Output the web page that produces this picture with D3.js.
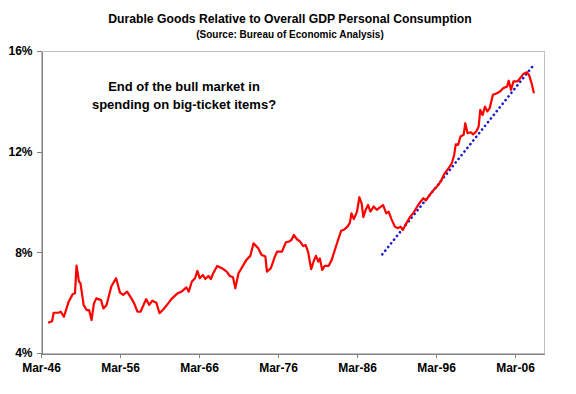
<!DOCTYPE html>
<meta charset="utf-8">
<style>
    body { margin: 0; background: #fff; }
    svg { font-family: Arial, "Liberation Sans", sans-serif; font-weight: bold; }
    .axis path, .axis line { fill: none; stroke: #808080; shape-rendering: crispEdges; }
    .axis text { font-size: 12px; font-weight: bold; fill: #000; }
</style>
<body>
<script src="https://cdn.jsdelivr.net/npm/d3@7"></script>
<script>
    // years: 1946 = Mar-46 tick
    const years = [1946.9, 1947.4, 1947.6, 1948.2, 1948.5, 1948.9, 1949.5, 1950.0, 1950.3, 1950.5,
        1950.8, 1951.0, 1951.4, 1951.8, 1952.1, 1952.4, 1952.7, 1953.0, 1953.6, 1953.9,
        1954.3, 1954.9, 1955.5, 1956.0, 1956.4, 1956.9, 1957.5, 1957.8, 1958.2, 1958.6,
        1959.3, 1959.7, 1960.1, 1960.6, 1961.0, 1961.5, 1962.1, 1962.5, 1963.2, 1963.8,
        1964.4, 1964.7, 1965.1, 1965.5, 1965.8, 1966.1, 1966.5, 1966.8, 1967.2, 1967.5,
        1967.8, 1968.3, 1968.9, 1969.5, 1969.9, 1970.3, 1970.6, 1971.0, 1971.5, 1972.0,
        1972.5, 1972.9, 1973.5, 1973.9, 1974.4, 1974.6, 1975.1, 1975.6, 1975.9, 1976.5,
        1977.0, 1977.4, 1977.7, 1978.0, 1978.4, 1978.8, 1979.2, 1979.5, 1979.8, 1980.2,
        1980.5, 1980.8, 1981.1, 1981.3, 1981.6, 1981.9, 1982.4, 1982.8, 1983.2, 1983.6,
        1984.0, 1984.4, 1984.8, 1985.1, 1985.3, 1985.6, 1986.0, 1986.3, 1986.6, 1986.8,
        1987.1, 1987.4, 1987.7, 1988.1, 1988.5, 1988.9, 1989.3, 1989.7, 1990.0, 1990.4,
        1990.8, 1991.2, 1991.5, 1991.8, 1992.2, 1992.7, 1993.2, 1993.8, 1994.4, 1994.7,
        1995.2, 1995.7, 1996.3, 1996.7, 1997.1, 1997.6, 1998.0, 1998.3, 1998.5, 1998.8,
        1999.1, 1999.5, 1999.7, 2000.0, 2000.4, 2000.7, 2001.1, 2001.4, 2001.6, 2001.9,
        2002.2, 2002.5, 2002.8, 2003.2, 2003.7, 2004.1, 2004.5, 2005.0, 2005.2, 2005.5,
        2005.8, 2006.3, 2006.6, 2007.1, 2007.5, 2007.8, 2008.1, 2008.4];
    const share = [5.20, 5.26, 5.60, 5.60, 5.64, 5.44, 6.04, 6.33, 6.37, 7.47,
        6.84, 6.77, 5.90, 5.70, 5.70, 5.31, 5.97, 6.17, 6.10, 5.77,
        5.91, 6.64, 6.97, 6.40, 6.31, 6.44, 6.14, 5.97, 5.64, 5.64,
        6.14, 5.91, 6.08, 6.00, 5.58, 5.74, 5.97, 6.14, 6.35, 6.44,
        6.61, 6.44, 6.84, 6.97, 7.26, 6.97, 7.10, 6.94, 7.06, 6.94,
        7.17, 7.46, 7.37, 7.23, 7.06, 7.01, 6.57, 7.17, 7.43, 7.70,
        7.86, 8.36, 8.16, 7.90, 7.83, 7.23, 7.37, 7.83, 8.03, 8.03,
        8.40, 8.43, 8.49, 8.69, 8.52, 8.43, 8.25, 8.29, 8.03, 7.33,
        7.63, 7.86, 7.63, 7.76, 7.30, 7.46, 7.46, 7.70, 8.10, 8.49,
        8.86, 8.91, 9.02, 9.18, 9.55, 9.32, 9.62, 10.19, 9.93, 9.40,
        9.69, 9.88, 9.62, 9.82, 9.69, 9.79, 9.88, 9.55, 9.62, 9.29,
        9.02, 8.96, 9.02, 8.89, 9.13, 9.40, 9.60, 9.91, 10.15, 10.06,
        10.28, 10.48, 10.68, 10.88, 11.14, 11.34, 11.54, 11.87, 12.29, 12.27,
        12.60, 12.67, 13.13, 12.73, 12.77, 12.69, 12.80, 13.00, 13.66, 13.46,
        13.79, 13.60, 13.73, 14.26, 14.32, 14.39, 14.52, 14.59, 14.82, 14.46,
        14.79, 14.79, 14.90, 15.10, 15.16, 15.03, 14.72, 14.32];
    const trendYears = [1989.2, 2008.5];
    const trendShare = [7.92, 15.5];
    const xTicks = [1946, 1956, 1966, 1976, 1986, 1996, 2006];
    const xTickLabels = ["Mar-46", "Mar-56", "Mar-66", "Mar-76", "Mar-86", "Mar-96", "Mar-06"];
    const yTicks = [4, 8, 12, 16];

    const width = 576, height = 394;
    const plot = {left: 41, right: 544, top: 51, bottom: 353};

    const svg = d3.select("body").append("svg")
        .attr("width", width)
        .attr("height", height);

    const x = d3.scaleLinear().domain([1946, 2009.67]).range([plot.left, plot.right]);
    const y = d3.scaleLinear().domain([4, 16]).range([plot.bottom, plot.top]);

    // plot frame (top/right light grey)
    svg.append("rect")
        .attr("x", plot.left + 0.5).attr("y", plot.top + 0.5)
        .attr("width", plot.right - plot.left).attr("height", plot.bottom - plot.top)
        .style("fill", "none").style("stroke", "#c0c0c0");

    // y axis
    svg.append("g")
        .attr("class", "axis")
        .attr("transform", "translate(" + (plot.left + 0.5) + ",0)")
        .call(d3.axisLeft(y).tickValues(yTicks).tickSize(5).tickSizeOuter(0).tickPadding(4).tickFormat(d => d + "%"));

    // x axis
    svg.append("g")
        .attr("class", "axis")
        .attr("transform", "translate(0," + (plot.bottom + 0.5) + ")")
        .call(d3.axisBottom(x).tickValues(xTicks).tickSize(4).tickSizeOuter(0).tickPadding(6)
            .tickFormat((d, i) => xTickLabels[i]));

    // trend line
    svg.append("path")
        .datum(d3.zip(trendYears, trendShare))
        .attr("d", d3.line().x(d => x(d[0])).y(d => y(d[1])))
        .style("fill", "none")
        .style("stroke", "#1a1acc")
        .style("stroke-width", 2.6)
        .style("stroke-linecap", "round")
        .style("stroke-dasharray", "0.1,4.6");

    // data line
    svg.append("path")
        .datum(d3.zip(years, share))
        .attr("d", d3.line().x(d => x(d[0])).y(d => y(d[1])))
        .style("fill", "none")
        .style("stroke", "#ff0000")
        .style("stroke-width", 2.2)
        .style("stroke-linejoin", "round");

    // titles
    svg.append("text")
        .attr("x", 290).attr("y", 23)
        .attr("text-anchor", "middle")
        .style("font-size", "12.2px")
        .text("Durable Goods Relative to Overall GDP Personal Consumption");
    svg.append("text")
        .attr("x", 290).attr("y", 38)
        .attr("text-anchor", "middle")
        .style("font-size", "10px")
        .text("(Source: Bureau of Economic Analysis)");

    // annotation
    const note = svg.append("text")
        .attr("text-anchor", "middle")
        .style("font-size", "13px");
    note.append("tspan").attr("x", 184).attr("y", 91).text("End of the bull market in");
    note.append("tspan").attr("x", 184).attr("y", 109).text("spending on big-ticket items?");
</script>
</body>
